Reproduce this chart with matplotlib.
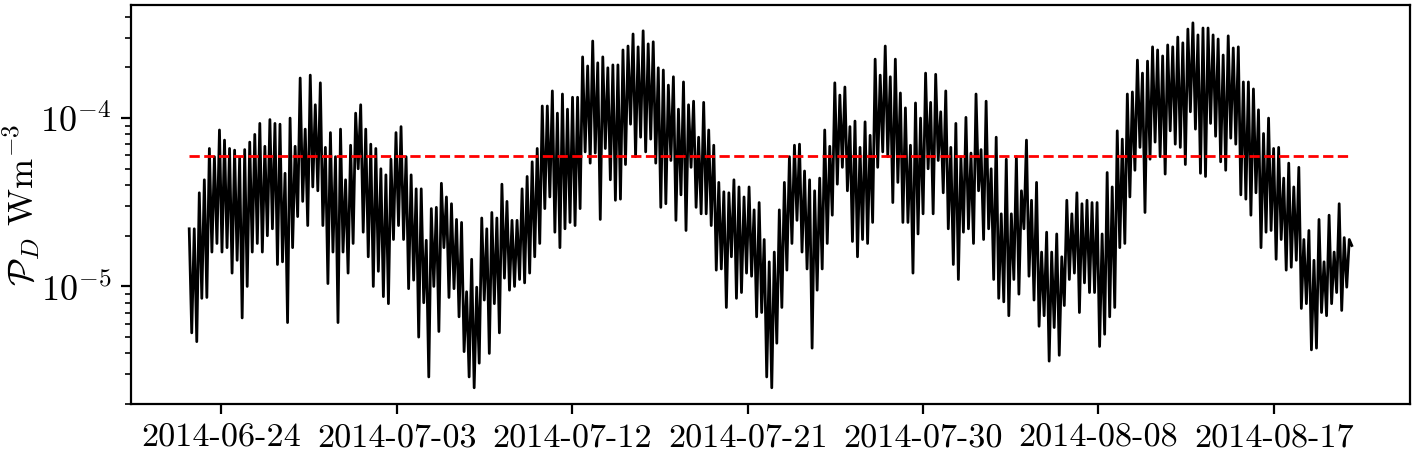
import numpy as np
import matplotlib
matplotlib.use("Agg")
import matplotlib.pyplot as plt

plt.rcParams['font.family'] = 'serif'
plt.rcParams['font.serif'] = ['cmr10']
plt.rcParams['mathtext.fontset'] = 'cm'
plt.rcParams['axes.unicode_minus'] = False
plt.rcParams['axes.formatter.use_mathtext'] = True

# dissipation, in units of 1e-5 W m^-3
# local maxima / minima of the quarter-diurnal oscillation, in time order
peaks = [
    2.2, 2.2, 3.6, 4.3, 6.6, 5.9, 8.5, 7.4, 6.6, 6.45, 5.8, 6.5, 7.2, 8.0, 9.3, 6.8, 9.8, 9.3, 9.2, 4.7, 10.0,
    6.8, 17.3, 8.6, 18.0, 12.0, 16.2, 6.7, 8.2, 5.9, 8.6, 4.3, 6.9, 10.7, 12.0, 8.6, 7.0, 6.6, 5.0, 4.6, 5.7, 8.2,
    8.9, 5.9, 4.6, 3.8, 3.8, 1.88, 2.9, 2.95, 4.1, 3.4, 3.1, 2.5, 2.4, 0.93, 1.45, 0.99, 2.55, 2.2, 2.75, 2.55, 4.05,
    3.2, 2.47, 2.47, 3.8, 4.5, 5.5, 6.6, 11.8, 11.8, 14.5, 10.7, 13.9, 11.3, 13.3, 13.3, 23.1, 20.4, 28.7, 21.3, 23.1, 19.9,
    20.7, 20.7, 25.4, 26.8, 31.6, 26.5, 33.0, 27.6, 28.4, 19.9, 19.3, 15.7, 17.6, 11.3, 16.4, 12.0, 12.6, 7.7, 12.4, 8.5, 6.9,
    4.15, 3.65, 3.6, 4.3, 3.9, 3.4, 3.9, 2.85, 3.15, 1.9, 1.4, 1.6, 2.85, 4.15, 5.9, 6.9, 7.0, 4.85, 4.3, 3.7, 4.4,
    8.5, 6.8, 16.2, 13.7, 15.3, 8.9, 9.6, 6.7, 9.5, 7.9, 22.4, 18.0, 26.8, 17.6, 22.4, 14.1, 11.5, 6.9, 12.3, 10.0, 18.5, 12.4,
    18.2, 10.9, 14.5, 6.7, 9.3, 5.9, 10.1, 6.2, 13.9, 6.5, 12.6, 5.0, 7.7, 2.7, 5.7, 2.7, 5.9, 3.7, 7.4, 3.25, 4.15,
    1.6, 2.1, 1.6, 2.05, 1.5, 3.25, 2.7, 3.6, 3.1, 3.25, 3.15, 3.15, 2.05, 4.75, 3.9, 8.4, 7.5, 13.9, 14.3, 22.1, 18.5,
    21.8, 26.5, 25.4, 23.4, 27.2, 26.5, 30.3, 28.0, 33.8, 36.8, 31.2, 34.3, 34.3, 31.2, 29.5, 23.7, 30.8, 26.1, 26.5, 16.4, 16.4,
    14.9, 11.2, 8.1, 10.0, 6.6, 6.7, 4.4, 5.4, 3.9, 5.1, 1.9, 2.15, 1.43, 2.5, 1.4, 2.65, 1.6, 3.1, 1.95, 1.9,
]
troughs = [
    0.53, 0.47, 0.85, 0.86, 1.6, 1.8, 1.6, 1.7, 1.2, 1.43, 0.65, 1.0, 1.6, 1.8, 1.6, 2.0, 2.2, 1.35, 1.4, 0.61, 1.7,
    2.6, 3.2, 2.3, 3.9, 3.7, 2.3, 1.04, 1.6, 0.61, 1.6, 1.2, 1.8, 5.0, 2.1, 1.5, 1.0, 1.23, 0.87, 0.79, 1.9, 2.3,
    1.9, 0.97, 1.09, 0.5, 0.8, 0.29, 1.0, 0.54, 1.7, 0.86, 0.97, 0.66, 0.41, 0.29, 0.25, 0.35, 0.83, 0.4, 0.79, 0.53, 1.12,
    0.95, 1.0, 1.1, 1.05, 1.2, 1.5, 1.8, 2.9, 3.4, 2.1, 1.7, 2.2, 2.4, 2.3, 2.9, 6.3, 5.4, 6.2, 2.5, 6.6, 4.3,
    3.25, 3.3, 5.3, 9.2, 5.9, 7.7, 6.3, 7.5, 5.4, 2.95, 3.1, 5.6, 2.47, 3.5, 2.15, 5.1, 2.95, 2.7, 2.7, 2.3, 1.25,
    1.27, 0.75, 1.5, 0.85, 0.92, 1.2, 1.15, 0.66, 0.7, 0.29, 0.25, 0.46, 0.75, 1.25, 1.8, 2.47, 1.6, 1.27, 0.43, 0.95, 1.27,
    1.8, 2.65, 4.05, 5.1, 3.7, 1.85, 1.5, 1.9, 1.8, 2.4, 5.1, 6.3, 5.9, 3.15, 4.15, 2.4, 2.4, 1.2, 2.05, 2.7, 5.0, 2.7,
    5.6, 3.6, 2.2, 1.35, 1.1, 2.1, 2.2, 1.8, 3.7, 1.9, 2.2, 1.1, 0.85, 0.81, 0.67, 1.1, 0.9, 2.2, 1.15, 0.83, 0.58,
    0.67, 0.36, 0.57, 0.39, 0.77, 1.1, 1.2, 0.7, 1.05, 0.92, 0.92, 0.44, 0.52, 0.66, 0.75, 1.7, 1.8, 3.4, 4.9, 6.7, 2.75,
    5.7, 7.2, 5.9, 4.65, 8.4, 7.0, 6.7, 5.3, 10.9, 8.6, 4.7, 4.5, 9.3, 7.8, 5.5, 4.9, 7.6, 7.0, 3.5, 3.3, 2.65,
    3.6, 1.7, 2.1, 2.15, 1.45, 1.9, 1.25, 1.3, 1.43, 0.74, 0.79, 0.42, 0.43, 0.7, 0.67, 0.79, 0.92, 0.72, 0.99, 1.75,
]
threshold = 5.97e-5
t_start = '2014-06-22T08:30'
dt_seconds = 11178  # M2/4
tick_dates = ['2014-06-24', '2014-07-03', '2014-07-12', '2014-07-21',
              '2014-07-30', '2014-08-08', '2014-08-17']

pd_vals = np.empty(len(peaks) + len(troughs))
pd_vals[0::2] = peaks
pd_vals[1::2] = troughs
pd_vals = pd_vals * 1e-5
t = np.datetime64(t_start) + np.arange(len(pd_vals)) * np.timedelta64(dt_seconds, 's')

fig = plt.figure(figsize=(7.085, 2.255), dpi=200)
ax = fig.add_axes([0.0925, 0.104, 0.9025, 0.885])
ax.plot(t, pd_vals, color='black', lw=1.0)
ax.plot(t, np.full(len(t), threshold), color='red', ls='--', lw=1.0)
ax.set_yscale('log')
ax.set_ylim(2e-6, 4.7e-4)
ax.set_xticks(np.array(tick_dates, dtype='datetime64[D]'))
ax.set_xticklabels(tick_dates)
ax.tick_params(axis='x', labelsize=12.3)
ax.tick_params(axis='y', labelsize=13)
ax.set_ylabel(r'$\mathcal{P}_D\ \mathrm{Wm}^{-3}$', fontsize=13)
ax.yaxis.set_label_coords(-0.07, 0.5)

fig.savefig('out.png', dpi=200)
